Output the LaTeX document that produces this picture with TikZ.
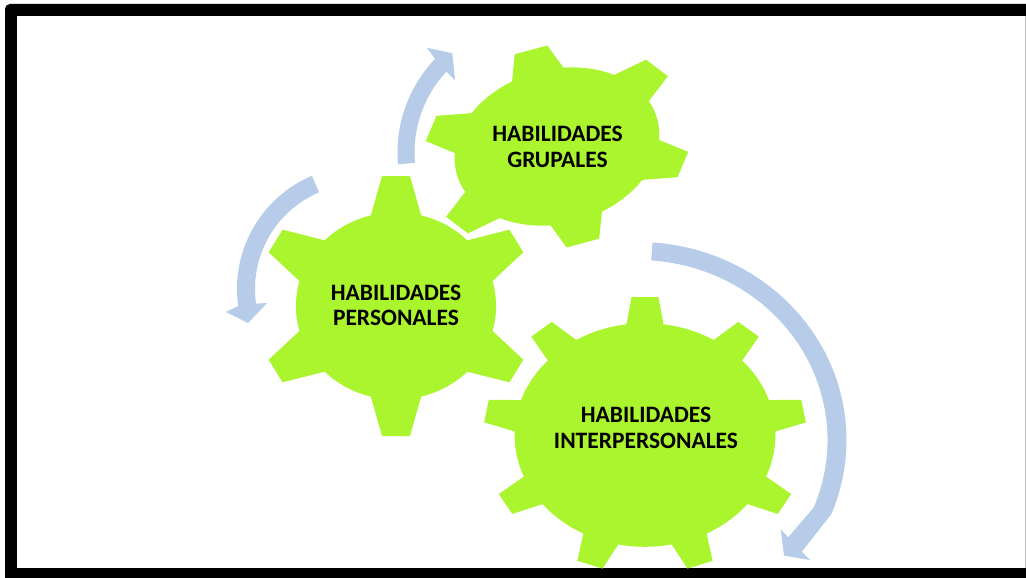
\documentclass[tikz,border=0pt]{standalone}
\usepackage{fontspec}
\setmainfont{Carlito}
\definecolor{gearg}{RGB}{170,245,45}
\definecolor{arrowb}{RGB}{182,204,232}
\newcommand\gearbody[5]{%
  \fill[gearfill] (0,0) circle[radius=#2];
  \foreach \a in {#1}{\fill[gearfill,rotate=\a] (#3,-#4) -- (1,-#5) -- (1,#5) -- (#3,#4) -- cycle;}%
}
\begin{document}
\begin{tikzpicture}[x=1pt,y=-1pt,
  gearfill/.style={fill=gearg},
  arrowfill/.style={fill=arrowb},
  gtext/.style={font=\bfseries\fontsize{23.5}{25.5}\selectfont, align=center, inner sep=0pt, text=black}]
\useasboundingbox (0,0) rectangle (1026,578);
\fill[white] (0,0) rectangle (1026,578);
% frame
\fill[black, rounded corners=5pt] (5,4) rectangle (1045,595);
\fill[white] (17,16) rectangle (1025,568);
\draw[black!25, line width=0.8pt] (1025.4,16) -- (1025.4,568);
% gears
\begin{scope}[shift={(396,306)}, xscale=139, yscale=130]
  \gearbody{30,90,...,330}{0.72}{0.6}{0.207}{0.10}
\end{scope}
\begin{scope}[shift={(557,146.5)}, rotate=15, xscale=135, yscale=100]
  \gearbody{30,90,...,330}{0.77}{0.65}{0.224}{0.125}
\end{scope}
\begin{scope}[shift={(645,435)}, xscale=161, yscale=138]
  \gearbody{10,50,...,330}{0.81}{0.7}{0.132}{0.083}
\end{scope}
% texts
\node[gtext] (t1) at (396,305.5) {HABILIDADES\\PERSONALES};
\node[gtext] (t2) at (557.5,147) {HABILIDADES\\GRUPALES};
\node[gtext] (t3) at (646,428) {HABILIDADES\\INTERPERSONALES};
% arrows
\begin{scope}[shift={(360,289)}]
  \fill[arrowfill] (-113:123) arc[start angle=-113, end angle=-188, radius=123]
    -- (-189.7:136) -- (-196.9:117) -- (-188.6:94) -- (-188:105)
    arc[start angle=-188, end angle=-113, radius=105] -- cycle;
\end{scope}
\begin{scope}[shift={(533,152.5)}]
  \fill[arrowfill] (-185:135.5) arc[start angle=-185, end angle=-136.3, radius=135.5]
    -- (-135.4:149) -- (-129.1:128) -- (-137.1:106.5) -- (-136.9:118.5)
    arc[start angle=-136.9, end angle=-185, radius=118.5] -- cycle;
\end{scope}
\begin{scope}[shift={(638,440)}, xscale=1.053]
  \fill[arrowfill] (-86:198) arc[start angle=-86, end angle=22, radius=198]
    -- (35.7:191.5) -- (36.3:202.7) -- (39.8:180.5) -- (33.4:162.3) -- (34.3:172.7) -- (22:180)
    arc[start angle=22, end angle=-86, radius=180] -- cycle;
\end{scope}
\end{tikzpicture}
\end{document}
